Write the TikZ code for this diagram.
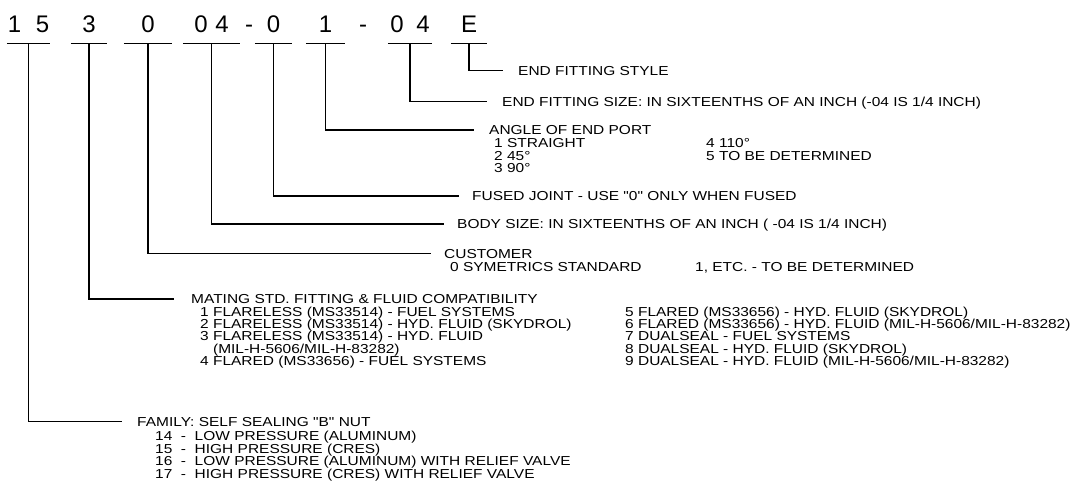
\documentclass[tikz,border=0pt]{standalone}
\usepackage{fontspec}
\setmainfont{Liberation Sans}
\newfontfamily\lblfont{Liberation Sans}[Ligatures=TeXOff, FakeStretch=1.19]
\usetikzlibrary{positioning}

\begin{document}
\begin{tikzpicture}[x=1pt, y=-1pt, every node/.style={inner sep=0pt},
  code/.style={font=\fontsize{24}{24}\selectfont, anchor=base, inner ysep=10pt},
  lbl/.style={font=\lblfont\fontsize{13}{13}\selectfont, anchor=base west},
  lead/.style={line width=1.1pt, shorten >=15pt},
  bar/.style={line width=1.1pt}]
\useasboundingbox (0,0) rectangle (1074,494);

\node[code, minimum width=43] (g1) at (28.5,33) {1\hspace{14.7pt}5};
\node[code, minimum width=36] (g2) at (89,33) {3};
\node[code, minimum width=48] (g3) at (148,33) {0};
\node[code, minimum width=57] (g4) at (211.5,33) {0\hspace{7.7pt}4};
\node[code, inner ysep=0pt] (d1) at (249,33) {-};
\node[code, minimum width=37] (g5) at (273.5,33) {0};
\node[code, minimum width=39] (g6) at (325.5,33) {1};
\node[code, inner ysep=0pt] (d2) at (363,33) {-};
\node[code, minimum width=44] (g7) at (410,33) {0\hspace{12.7pt}4};
\node[code, minimum width=36] (g8) at (469,33) {E};
\foreach \g in {g1,g2,g3,g4,g5,g6,g7,g8}
  \draw[bar] (\g.south west) -- (\g.south east);

\node[lbl] (endstyle) at (518,75.2) {END FITTING STYLE};
\node[lbl] (endsize) at (502,106.2) {END FITTING SIZE: IN SIXTEENTHS OF AN INCH (-04 IS 1/4 INCH)};

\node[lbl] (angle) at (489,134.7) {ANGLE OF END PORT};
\foreach \t [count=\i] in {1 STRAIGHT, 2 45°, 3 90°}
  \node[lbl] (ang\i) at (494,135.3+\i*12.4) {\t};
\foreach \t [count=\i from 4] in {4 110°, 5 TO BE DETERMINED}
  \node[lbl] (ang\i) at (706,135.3+\i*12.4-37.2) {\t};

\node[lbl] (fused) at (472,200.7) {FUSED JOINT - USE "0" ONLY WHEN FUSED};
\node[lbl] (body) at (457,228.7) {BODY SIZE: IN SIXTEENTHS OF AN INCH ( -04 IS 1/4 INCH)};

\node[lbl] (customer) at (444,258.2) {CUSTOMER};
\node[lbl] (cust0) at (450,271.2) {0 SYMETRICS STANDARD};
\node[lbl] (cust1) at (695,271.2) {1, ETC. - TO BE DETERMINED};

\node[lbl] (mating) at (191,303.7) {MATING STD. FITTING \& FLUID COMPATIBILITY};
\foreach \t [count=\i] in {1 FLARELESS (MS33514) - FUEL SYSTEMS,
    2 FLARELESS (MS33514) - HYD. FLUID (SKYDROL),
    3 FLARELESS (MS33514) - HYD. FLUID,
    \phantom{3 }(MIL-H-5606/MIL-H-83282),
    4 FLARED (MS33656) - FUEL SYSTEMS}
  \node[lbl] (mat\i) at (200,303.8+\i*12.4) {\t};
\foreach \t [count=\i] in {5 FLARED (MS33656) - HYD. FLUID (SKYDROL),
    6 FLARED (MS33656) - HYD. FLUID (MIL-H-5606/MIL-H-83282),
    7 DUALSEAL - FUEL SYSTEMS,
    8 DUALSEAL - HYD. FLUID (SKYDROL),
    9 DUALSEAL - HYD. FLUID (MIL-H-5606/MIL-H-83282)}
  \node[lbl] (matr\i) at (625,303.8+\i*12.4) {\t};

\node[lbl] (family) at (137,426.2) {FAMILY: SELF SEALING "B" NUT};
\foreach \t [count=\i] in {14~~-~~LOW PRESSURE (ALUMINUM),
    15~~-~~HIGH PRESSURE (CRES),
    16~~-~~LOW PRESSURE (ALUMINUM) WITH RELIEF VALVE,
    17~~-~~HIGH PRESSURE (CRES) WITH RELIEF VALVE}
  \node[lbl] (fam\i) at (155,428.1+\i*12.6) {\t};

\draw[lead] (g8.south) |- ([yshift=4.7pt]endstyle.base west);
\draw[lead] (g7.south) |- ([yshift=4.7pt]endsize.base west);
\draw[lead] (g6.south) |- ([yshift=4.7pt]angle.base west);
\draw[lead, shorten >=13pt] (g5.south) |- ([yshift=4.7pt]fused.base west);
\draw[lead, shorten >=13pt] (g4.south) |- ([yshift=4.7pt]body.base west);
\draw[lead, shorten >=13pt] (g3.south) |- ([yshift=4.7pt]customer.base west);
\draw[lead, shorten >=17pt] (g2.south) |- ([yshift=4.7pt]mating.base west);
\draw[lead] (g1.south) |- ([yshift=4.7pt]family.base west);
\end{tikzpicture}
\end{document}
